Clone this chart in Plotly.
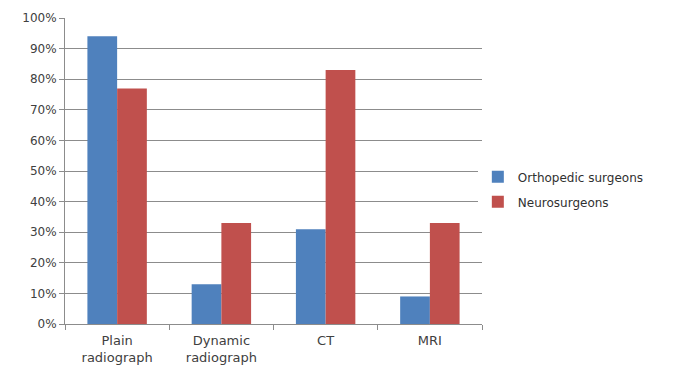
import plotly.graph_objects as go

categories = ["Plain<br>radiograph", "Dynamic<br>radiograph", "CT", "MRI"]
orthopedic = [94, 13, 31, 9]
neuro = [77, 33, 83, 33]
y_ticks = list(range(0, 101, 10))
y_labels = [f"{v}%" for v in y_ticks]

font = dict(family="DejaVu Sans, Verdana, sans-serif", size=12, color="#404040")

fig = go.Figure()
fig.add_trace(go.Bar(name="Orthopedic surgeons", x=categories, y=orthopedic,
                     legendgroup="ortho",
                     marker=dict(color="#4F81BD", line=dict(width=0))))
fig.add_trace(go.Bar(name="Neurosurgeons", x=categories, y=neuro,
                     legendgroup="neuro",
                     marker=dict(color="#C0504D", line=dict(width=0))))

fig.update_layout(
    width=673, height=369,
    margin=dict(l=65, r=191, t=18, b=45),
    paper_bgcolor="white", plot_bgcolor="white",
    barmode="group", bargap=0.43, bargroupgap=0,
    font=font,
    showlegend=True,
    legend=dict(x=0.99, y=0.44, yanchor="middle", xanchor="left",
                font=dict(family="DejaVu Sans, Verdana, sans-serif", size=12,
                          color="#303030"),
                traceorder="grouped", tracegroupgap=6, itemwidth=30),
)
fig.update_yaxes(range=[0, 100], tickvals=y_ticks, ticktext=y_labels,
                 showgrid=True, gridcolor="#8c8c8c", gridwidth=1,
                 showline=True, linecolor="#8c8c8c", linewidth=1,
                 ticks="outside", ticklen=5, tickcolor="#8c8c8c",
                 zeroline=False, tickfont=font, automargin=False)
fig.update_xaxes(showline=True, linecolor="#8c8c8c", linewidth=1,
                 ticks="outside", tickson="boundaries", ticklen=5,
                 tickcolor="#8c8c8c", ticklabelstandoff=4, automargin=False,
                 tickfont=dict(family="DejaVu Sans, Verdana, sans-serif",
                               size=13, color="#404040"))

fig.write_html("out.html")
